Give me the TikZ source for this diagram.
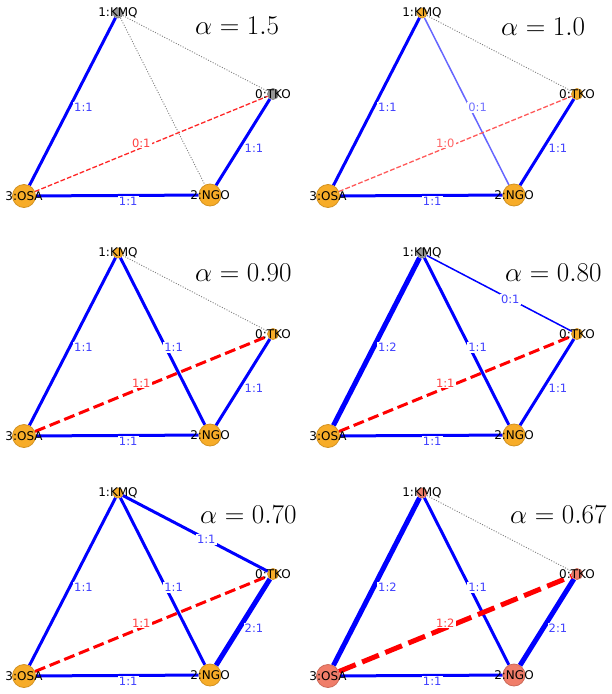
\documentclass[tikz,border=0pt]{standalone}
\usepackage{fontspec}
\newfontfamily\dejavu{DejaVu Sans}
\pgfdeclarelayer{edges}
\pgfsetlayers{edges,main}
\definecolor{nodeor}{RGB}{247,172,40}
\definecolor{nodegr}{RGB}{150,150,150}
\definecolor{nodesa}{RGB}{240,125,105}

\tikzset{
  city/.style={font=\dejavu\fontsize{12}{12}\selectfont, inner sep=0pt},
  big/.style={circle, inner sep=0pt, minimum size=23pt, line width=0.8pt},
  small/.style={circle, inner sep=0pt, minimum size=10pt, line width=0.8pt},
  link/.style={blue, line width=3pt},
  heavy/.style={blue, line width=5pt},
  light/.style={blue, line width=1.5pt},
  faint/.style={blue!60, line width=1.5pt},
  idle/.style={gray, line width=0.9pt, dash pattern=on 1pt off 1.6pt},
  rthin/.style={red!85, line width=1.3pt, dash pattern=on 4.8pt off 2.1pt},
  rfaint/.style={red!65, line width=1.3pt, dash pattern=on 4.8pt off 2.1pt},
  rlink/.style={red, line width=3pt, dash pattern=on 11pt off 4.8pt},
  rheavy/.style={red, line width=5pt, dash pattern=on 18pt off 7pt},
  lab/.style={midway, fill=white, inner sep=1pt, font=\dejavu\fontsize{11.5}{12}\selectfont, text=blue!75, xshift=11pt, yshift=-6pt},
  rlab/.style={midway, fill=white, inner sep=1pt, font=\dejavu\fontsize{11.5}{12}\selectfont, text=red!75, xshift=-10pt, yshift=1pt},
  alab/.style={anchor=west, inner sep=0pt, font=\fontsize{25}{25}\selectfont, scale=1.09, transform shape}
}

\begin{document}
\begin{tikzpicture}[x=1pt, y=-1pt]
  \useasboundingbox (0,0) rectangle (611,694);
  % stations of the six panels
  \foreach \p/\dx/\dy/\ck/\ct/\cn/\co in {1/0/0/nodegr/nodegr/nodeor/nodeor,
      2/304/0/nodeor/nodeor/nodeor/nodeor, 3/0/240/nodeor/nodeor/nodeor/nodeor,
      4/304/240/nodegr/nodeor/nodeor/nodeor, 5/0/480/nodeor/nodeor/nodeor/nodeor,
      6/304/480/nodesa/nodesa/nodesa/nodesa}{
    \begin{scope}[shift={(\dx,\dy)}]
      \node[small, fill=\ck, draw=\ck!85!black] (k\p) at (118,13) {};
      \node[small, minimum size=11pt, fill=\ct, draw=\ct!85!black] (t\p) at (273,94) {};
      \node[big, minimum size=22pt, fill=\cn, draw=\cn!85!black] (n\p) at (210,195) {};
      \node[big, fill=\co, draw=\co!85!black] (o\p) at (24,196) {};
      \node[city] (kl\p) at (k\p) {1:KMQ};
      \node[city] (tl\p) at (t\p) {0:TKO};
      \node[city] (nl\p) at (n\p) {2:NGO};
      \node[city] (ol\p) at (o\p) {3:OSA};
    \end{scope}
  }
  % alpha values
  \node[alab] (a1) at (195,26) {$\alpha = 1.5$};
  \node[alab] (a2) at (501,27) {$\alpha = 1.0$};
  \node[alab] (a3) at (195,273) {$\alpha = 0.90$};
  \node[alab] (a4) at (505,273) {$\alpha = 0.80$};
  \node[alab] (a5) at (200,515) {$\alpha = 0.70$};
  \node[alab] (a6) at (510,515) {$\alpha = 0.67$};
  \begin{pgfonlayer}{edges}
    % alpha = 1.5
    \draw[idle] (k1) -- (n1);
    \draw[idle] (k1) -- (t1);
    \draw[link] (k1) -- (o1) node[lab] {1:1};
    \draw[link] (o1) -- (n1) node[lab] {1:1};
    \draw[link] (n1) -- (t1) node[lab] {1:1};
    \draw[rthin] (o1) -- (t1) node[rlab] {0:1};
    % alpha = 1.0
    \draw[idle] (k2) -- (t2);
    \draw[link] (k2) -- (o2) node[lab] {1:1};
    \draw[faint] (k2) -- (n2) node[lab, text=blue!55] {0:1};
    \draw[link] (o2) -- (n2) node[lab] {1:1};
    \draw[link] (n2) -- (t2) node[lab] {1:1};
    \draw[rfaint] (o2) -- (t2) node[rlab, text=red!60] {1:0};
    % alpha = 0.90
    \draw[idle] (k3) -- (t3);
    \draw[link] (k3) -- (o3) node[lab] {1:1};
    \draw[link] (k3) -- (n3) node[lab] {1:1};
    \draw[link] (o3) -- (n3) node[lab] {1:1};
    \draw[link] (n3) -- (t3) node[lab] {1:1};
    \draw[rlink] (o3) -- (t3) node[rlab] {1:1};
    % alpha = 0.80
    \draw[heavy] (k4) -- (o4) node[lab] {1:2};
    \draw[link] (k4) -- (n4) node[lab] {1:1};
    \draw[light] (k4) -- (t4) node[lab] {0:1};
    \draw[link] (o4) -- (n4) node[lab] {1:1};
    \draw[link] (n4) -- (t4) node[lab] {1:1};
    \draw[rlink] (o4) -- (t4) node[rlab] {1:1};
    % alpha = 0.70
    \draw[link] (k5) -- (o5) node[lab] {1:1};
    \draw[link] (k5) -- (n5) node[lab] {1:1};
    \draw[link] (k5) -- (t5) node[lab] {1:1};
    \draw[link] (o5) -- (n5) node[lab] {1:1};
    \draw[heavy] (n5) -- (t5) node[lab] {2:1};
    \draw[rlink] (o5) -- (t5) node[rlab] {1:1};
    % alpha = 0.67
    \draw[idle] (k6) -- (t6);
    \draw[heavy] (k6) -- (o6) node[lab] {1:2};
    \draw[link] (k6) -- (n6) node[lab] {1:1};
    \draw[link] (o6) -- (n6) node[lab] {1:1};
    \draw[heavy] (n6) -- (t6) node[lab] {2:1};
    \draw[rheavy] (o6) -- (t6) node[rlab] {1:2};
  \end{pgfonlayer}
\end{tikzpicture}
\end{document}
